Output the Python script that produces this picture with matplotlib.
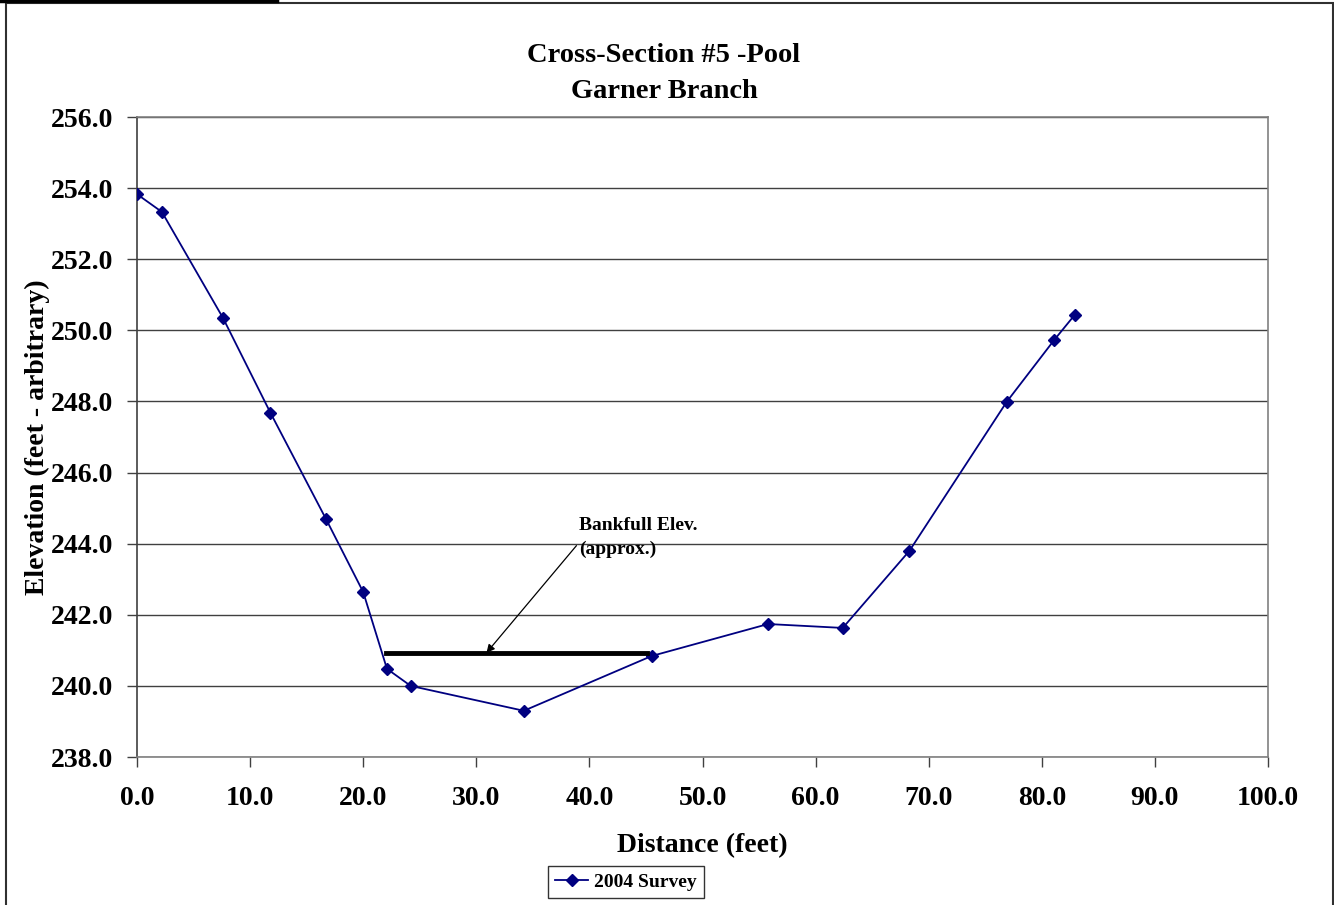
import matplotlib
matplotlib.use("Agg")
from matplotlib import pyplot as plt
from matplotlib.patches import Rectangle
from matplotlib.lines import Line2D

# survey points
distance = [0.0, 2.2, 7.6, 11.8, 16.7, 20.0, 22.1, 24.2, 34.2, 45.5, 55.8, 62.4, 68.3, 76.9, 81.1, 82.9]
elevation = [253.83, 253.33, 250.35, 247.68, 244.70, 242.64, 240.48, 240.00, 239.30, 240.84,
             241.74, 241.63, 243.80, 247.99, 249.73, 250.43]

bankfull_x = [22.0, 45.1]
bankfull_elev = 240.93

x_ticks = [0, 10, 20, 30, 40, 50, 60, 70, 80, 90, 100]
y_ticks = [238, 240, 242, 244, 246, 248, 250, 252, 254, 256]

plt.rcParams['font.family'] = ['Liberation Serif', 'DejaVu Serif']
plt.rcParams['font.weight'] = 'bold'

fig = plt.figure(figsize=(13.34, 9.05), dpi=100)
ax = fig.add_axes((137/1334, 1 - 757/905, (1268-137)/1334, (757-117)/905))

ax.plot(distance, elevation, color='#000080', lw=1.3, marker='D', ms=6, label='2004 Survey', zorder=3)
ax.plot(bankfull_x, [bankfull_elev, bankfull_elev], color='black', lw=3.5, zorder=4)
ax.annotate('Bankfull Elev.\n(approx.)', xy=(30.9, bankfull_elev), xytext=(39.1, 244.74),
            fontsize=14, fontweight='bold', va='top', ha='left', linespacing=1.45,
            arrowprops=dict(arrowstyle='-|>', color='black', lw=0.9, shrinkA=0, shrinkB=0,
                            mutation_scale=12, relpos=(0.02, 0.45)))

ax.set_xlim(0, 100)
ax.set_ylim(238, 256)
ax.set_xticks(x_ticks)
ax.set_yticks(y_ticks)
ax.set_xticklabels(['%.1f' % v for v in x_ticks], fontsize=20, fontweight='bold')
ax.set_yticklabels(['%.1f' % v for v in y_ticks], fontsize=20, fontweight='bold')
ax.tick_params(direction='out', length=7, width=1, color='#404040', pad=10)
ax.tick_params(axis='x', pad=14)
ax.yaxis.grid(True, color='#404040', lw=1)
ax.set_axisbelow(True)
for s in ax.spines.values():
    s.set_color('#808080')
    s.set_linewidth(1.2)
ax.spines['left'].set_color('#404040')

ax.set_xlabel('Distance (feet)', fontsize=20, fontweight='bold', labelpad=16)
ax.set_ylabel('Elevation (feet - arbitrary)', fontsize=20, fontweight='bold')
ax.yaxis.set_label_coords(-0.077, 0.5)

fig.text(664/1334, 1 - 55/905, 'Cross-Section #5 -Pool', fontsize=20.5, fontweight='bold', ha='center', va='center')
fig.text(664/1334, 1 - 91/905, 'Garner Branch', fontsize=20.5, fontweight='bold', ha='center', va='center')

leg = fig.legend(handles=[Line2D([], [], color='#000080', lw=1.3, marker='D', ms=6)], labels=['2004 Survey'],
                 loc='center', bbox_to_anchor=(626/1334, 1 - 882/905), fontsize=14, frameon=True,
                 fancybox=False, handlelength=1.7, borderpad=0.35, handletextpad=0.3, borderaxespad=0)
leg.get_frame().set_edgecolor('black')
leg.get_frame().set_linewidth(1)

fig.patches.append(Rectangle((6/1334, -0.05), (1333-6)/1334, 1.05 - 3/905, transform=fig.transFigure,
                             fill=False, edgecolor='#303030', lw=1.5))
fig.lines.append(Line2D([0, 277/1334], [1 - 1/905, 1 - 1/905], transform=fig.transFigure, color='black', lw=2.5))

fig.savefig('out.png', dpi=100)
